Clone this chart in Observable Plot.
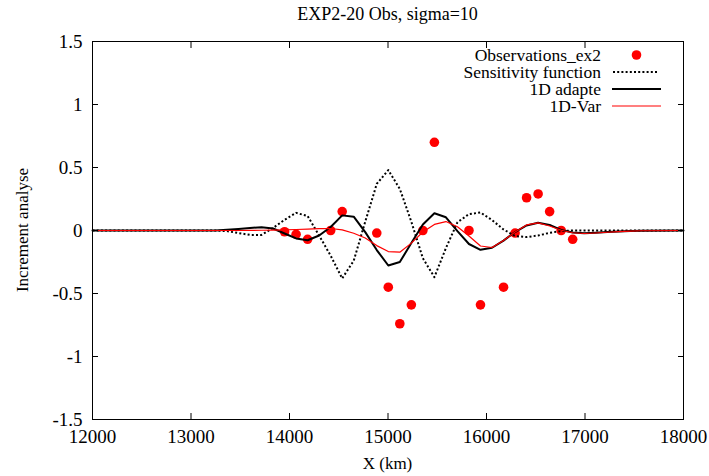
<!DOCTYPE html>
<html>
<head>
<meta charset="utf-8">
<script src="https://cdn.jsdelivr.net/npm/d3@7"></script>
<script src="https://cdn.jsdelivr.net/npm/@observablehq/plot@0.6"></script>
<style>
  html, body { margin: 0; padding: 0; background: #fff; }
  #chart svg { display: block; }
  #chart svg, #chart svg text { font-family: "Liberation Serif", "Times New Roman", serif !important; }
</style>
</head>
<body>
<div id="chart"></div>
<script>
const titleText = "EXP2-20 Obs, sigma=10";
const xLabel = "X (km)";
const yLabel = "Increment analyse";
const xTicks = [12000, 13000, 14000, 15000, 16000, 17000, 18000];
const yTicks = [-1.5, -1, -0.5, 0, 0.5, 1, 1.5];
const seriesNames = ["Observations_ex2", "Sensitivity function", "1D adapte", "1D-Var"];

// Observations
const obsX = [13950, 14067, 14184, 14418, 14535, 14886, 15003, 15120, 15237, 15354,
              15471, 15822, 15939, 16173, 16290, 16407, 16524, 16641, 16758, 16875];
const obsY = [-0.01, -0.03, -0.07, 0.0, 0.15, -0.02, -0.45, -0.74, -0.59, 0.0,
              0.70, 0.0, -0.59, -0.45, -0.02, 0.26, 0.29, 0.15, 0.0, -0.07];

// Model grid for the curves
const gridX = [12000, 13014, 13131, 13248, 13365, 13482, 13599, 13716, 13833, 13950,
               14067, 14184, 14301, 14418, 14535, 14652, 14769, 14886, 15003, 15120,
               15237, 15354, 15471, 15588, 15705, 15822, 15939, 16056, 16173, 16290,
               16407, 16524, 16641, 16758, 16875, 16992, 17109, 17226, 17343, 17460,
               17577, 18000];
const sensitivity = [0, 0, 0, 0, -0.005, -0.02, -0.035, -0.035, 0.02, 0.085,
                     0.14, 0.115, -0.04, -0.2, -0.38, -0.24, 0.07, 0.37, 0.48, 0.33,
                     0.07, -0.22, -0.37, -0.14, 0.065, 0.13, 0.143, 0.083, 0.008, -0.044,
                     -0.052, -0.04, -0.018, -0.005, 0, 0, 0, 0, 0, 0,
                     0, 0];
const adapte1D = [0, 0, 0, 0, 0.005, 0.012, 0.02, 0.026, 0.016, -0.024,
                  -0.063, -0.077, -0.04, 0.028, 0.12, 0.11, -0.013, -0.155, -0.278, -0.25,
                  -0.10, 0.048, 0.137, 0.105, -0.005, -0.107, -0.153, -0.137, -0.08, -0.012,
                  0.04, 0.061, 0.044, 0.004, -0.016, -0.022, -0.018, -0.012, -0.007, -0.004,
                  -0.002, 0];
const var1D = [0, 0, 0, 0, 0, 0, 0.001, 0.002, 0.003, 0.005,
               0.008, 0.011, 0.015, 0.016, 0.005, -0.022, -0.06, -0.12, -0.167, -0.172,
               -0.10, -0.012, 0.048, 0.071, 0.03, -0.044, -0.123, -0.135, -0.08, -0.012,
               0.044, 0.061, 0.036, 0.002, -0.018, -0.024, -0.02, -0.014, -0.009, -0.005,
               -0.002, 0];

const obs = obsX.map((x, i) => ({x, y: obsY[i]}));
const curve = arr => gridX.map((x, i) => ({x, y: arr[i]}));

const FONT = "Liberation Serif, Times New Roman, serif";
const W = 709, H = 476;
const ML = 92, MR = 26, MT = 41, MB = 57;

const fmt = d => String(d);

const plot = Plot.plot({
  width: W,
  height: H,
  marginLeft: ML,
  marginRight: MR,
  marginTop: MT,
  marginBottom: MB,
  style: {fontFamily: FONT, fontSize: "19px", color: "#000", background: "#fff", overflow: "visible"},
  x: {domain: [12000, 18000], ticks: xTicks, tickFormat: fmt, label: null},
  y: {domain: [-1.5, 1.5], ticks: yTicks, tickFormat: fmt, label: null},
  marks: [
    Plot.dot(obs, {x: "x", y: "y", r: 4.8, fill: "#ff0000", stroke: "none"}),
    Plot.line(curve(sensitivity), {x: "x", y: "y", stroke: "#000", strokeWidth: 2, strokeDasharray: "2,2.2", strokeLinecap: "butt"}),
    Plot.line(curve(adapte1D), {x: "x", y: "y", stroke: "#000", strokeWidth: 2}),
    Plot.line(curve(var1D), {x: "x", y: "y", stroke: "#ff0000", strokeWidth: 1.2}),
    Plot.axisX({anchor: "bottom", ticks: xTicks, tickFormat: fmt, tickSize: -6, tickPadding: 16, label: null, fontSize: 19}),
    Plot.axisX({anchor: "top", ticks: xTicks, tickFormat: () => "", tickSize: -6, label: null}),
    Plot.axisY({anchor: "left", ticks: yTicks, tickFormat: fmt, tickSize: -6, tickPadding: 16, label: null, fontSize: 19}),
    Plot.axisY({anchor: "right", ticks: yTicks, tickFormat: () => "", tickSize: -6, label: null}),
    Plot.frame({stroke: "#000", strokeWidth: 1})
  ]
});

document.getElementById("chart").appendChild(plot);

// Title, axis labels, legend
const svg = d3.select(plot);
const g = svg.append("g").attr("font-family", FONT).attr("fill", "#000");
const cx = (ML + (W - MR)) / 2;
g.append("text").attr("x", cx).attr("y", 20).attr("text-anchor", "middle").attr("font-size", 18).text(titleText);
g.append("text").attr("x", cx).attr("y", 469).attr("text-anchor", "middle").attr("font-size", 17).text(xLabel);
g.append("text").attr("transform", `translate(28,${(MT + H - MB) / 2}) rotate(-90)`).attr("text-anchor", "middle").attr("font-size", 17).text(yLabel);

const leg = g.append("g");
const rows = [55, 72, 89, 106];
seriesNames.forEach((name, i) => {
  leg.append("text").attr("x", 601).attr("y", rows[i]).attr("dy", "0.35em").attr("text-anchor", "end").attr("font-size", 17.5).text(name);
});
leg.append("circle").attr("cx", 636.5).attr("cy", rows[0]).attr("r", 4.8).attr("fill", "#ff0000");
leg.append("line").attr("x1", 613).attr("x2", 659).attr("y1", rows[1]).attr("y2", rows[1]).attr("stroke", "#000").attr("stroke-width", 2).attr("stroke-dasharray", "2,2.2");
leg.append("line").attr("x1", 612).attr("x2", 661).attr("y1", rows[2]).attr("y2", rows[2]).attr("stroke", "#000").attr("stroke-width", 2);
leg.append("line").attr("x1", 612).attr("x2", 661).attr("y1", rows[3]).attr("y2", rows[3]).attr("stroke", "#ff0000").attr("stroke-width", 1.2);
</script>
</body>
</html>
